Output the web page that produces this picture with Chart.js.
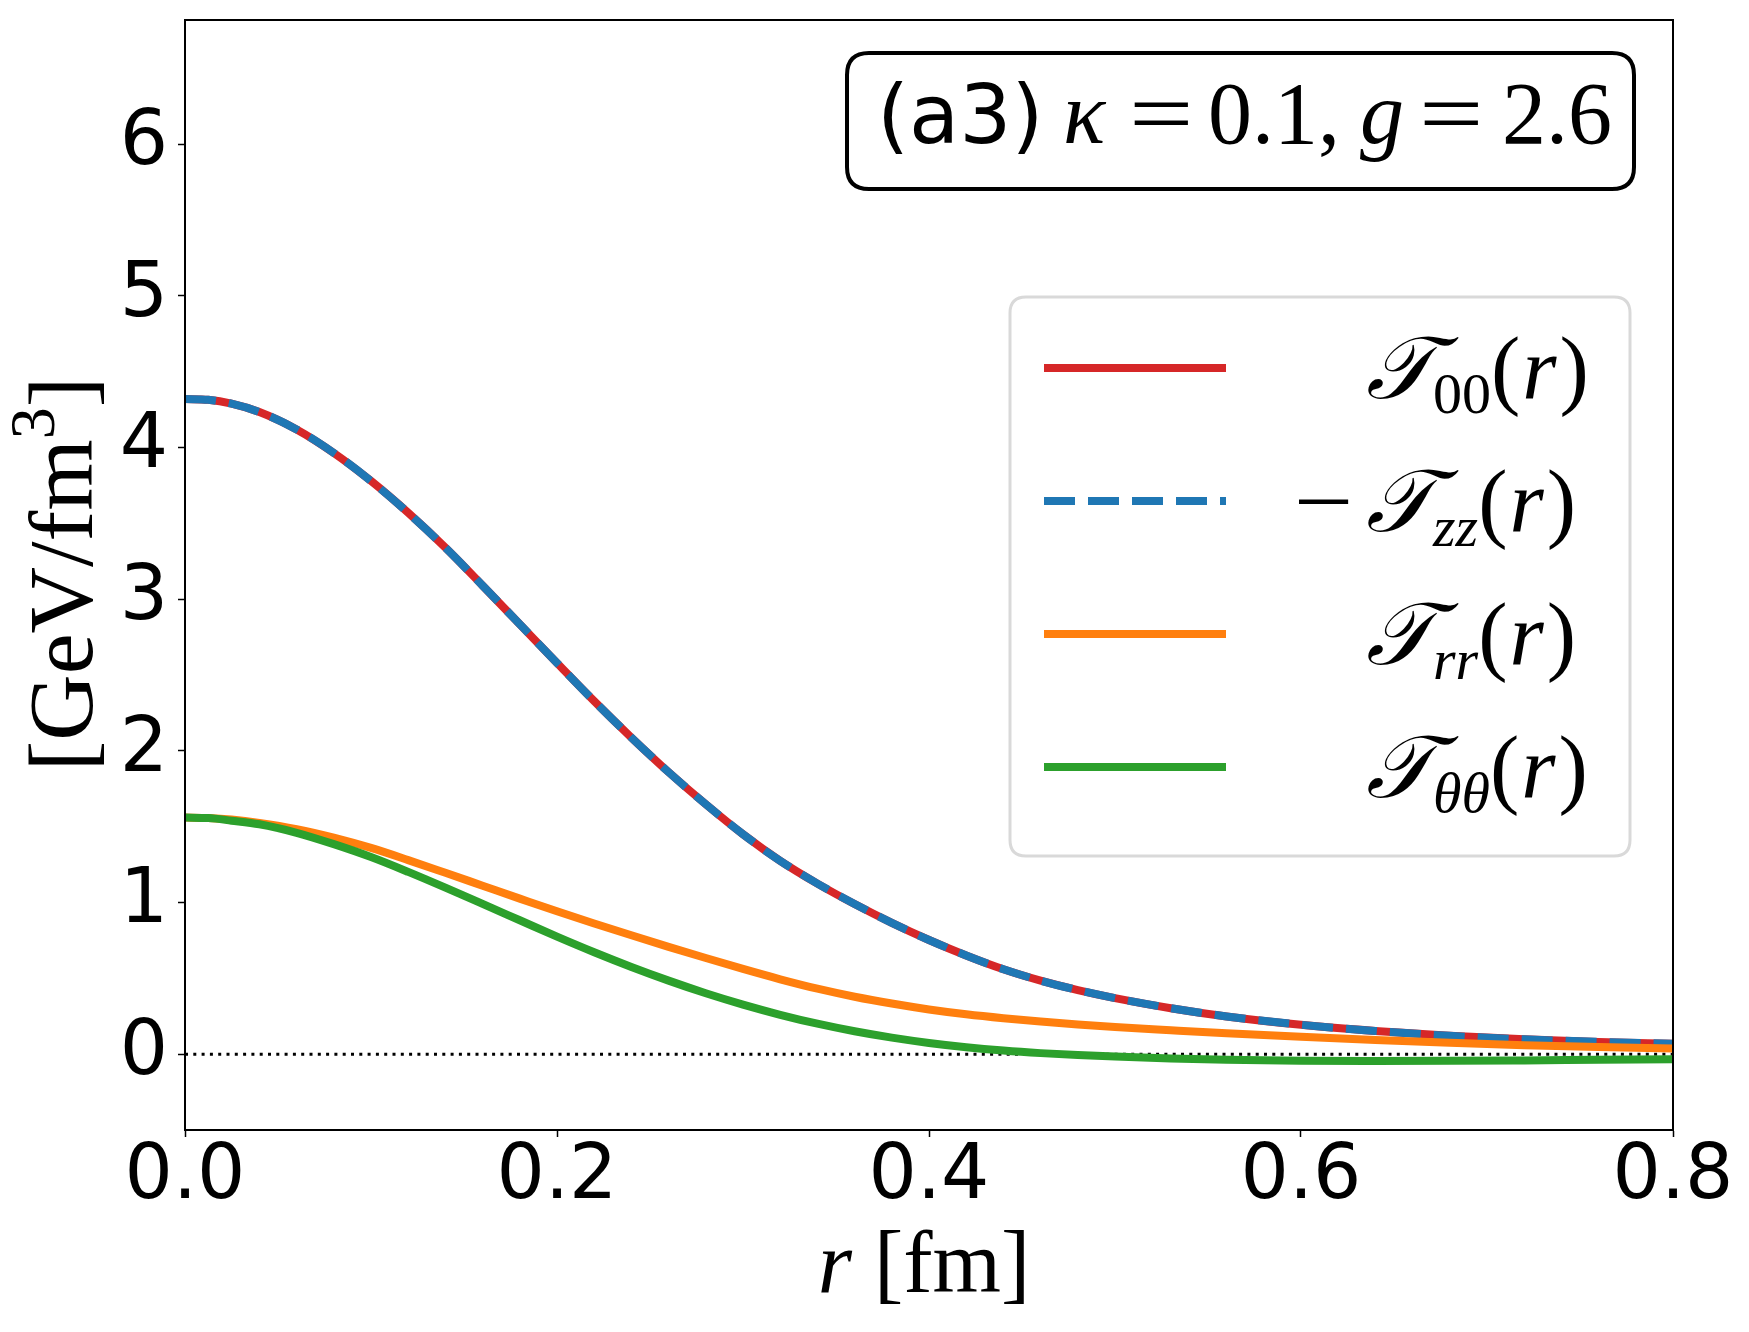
<!DOCTYPE html>
<html>
<head>
<meta charset="utf-8">
<script src="https://cdn.jsdelivr.net/npm/chart.js@4.4.1/dist/chart.umd.min.js"></script>
<style>
  html, body { margin: 0; padding: 0; background: #fff; }
  canvas { display: block; }
</style>
</head>
<body>
<canvas id="stressChart" width="1749" height="1332"></canvas>
<script>
// r in fm
const radius = [0, 0.0125, 0.025, 0.04, 0.06, 0.08, 0.1, 0.12, 0.14, 0.16, 0.18, 0.2, 0.22, 0.24, 0.26, 0.28, 0.3, 0.32, 0.34, 0.36, 0.38, 0.4, 0.42, 0.44, 0.46, 0.48, 0.5, 0.53, 0.56, 0.6, 0.64, 0.68, 0.72, 0.76, 0.8];

// GeV/fm^3
const t00 = [4.32, 4.315, 4.29, 4.235, 4.12, 3.965, 3.78, 3.57, 3.34, 3.09, 2.835, 2.58, 2.328, 2.088, 1.86, 1.648, 1.45, 1.275, 1.125, 0.99, 0.866, 0.753, 0.651, 0.56, 0.485, 0.423, 0.37, 0.303, 0.249, 0.194, 0.153, 0.121, 0.098, 0.081, 0.068];
const tzzNeg = [4.32, 4.315, 4.29, 4.235, 4.12, 3.965, 3.78, 3.57, 3.34, 3.09, 2.835, 2.58, 2.328, 2.088, 1.86, 1.648, 1.45, 1.275, 1.125, 0.99, 0.866, 0.753, 0.651, 0.56, 0.485, 0.423, 0.37, 0.303, 0.249, 0.194, 0.153, 0.121, 0.098, 0.081, 0.068];
const trr = [1.56, 1.557, 1.547, 1.525, 1.484, 1.428, 1.36, 1.28, 1.196, 1.111, 1.026, 0.942, 0.862, 0.784, 0.708, 0.634, 0.562, 0.494, 0.432, 0.379, 0.334, 0.295, 0.263, 0.237, 0.215, 0.196, 0.179, 0.158, 0.138, 0.115, 0.094, 0.075, 0.059, 0.047, 0.037];
const tthth = [1.56, 1.557, 1.54, 1.516, 1.46, 1.385, 1.30, 1.202, 1.098, 0.991, 0.883, 0.775, 0.672, 0.575, 0.485, 0.402, 0.327, 0.26, 0.201, 0.151, 0.109, 0.074, 0.046, 0.024, 0.007, -0.006, -0.016, -0.028, -0.037, -0.043, -0.045, -0.044, -0.041, -0.037, -0.033];

// dotted zero reference
const zeroX = [0, 0.8];
const zeroY = [0, 0];

const xTicks = [0, 0.2, 0.4, 0.6, 0.8];
const xTickLabels = ['0.0', '0.2', '0.4', '0.6', '0.8'];
const yTicks = [0, 1, 2, 3, 4, 5, 6];
const yTickLabels = ['0', '1', '2', '3', '4', '5', '6'];

const RED = '#d62728', BLUE = '#1f77b4', ORANGE = '#ff7f0e', GREEN = '#2ca02c';
const SANS = "'DejaVu Sans', sans-serif";
const SERIF = "'Liberation Serif', 'DejaVu Serif', serif";
const CAL_T = '\u{1D4AF}';

const toPoints = (xs, ys) => xs.map((x, i) => ({ x: x, y: ys[i] }));

// rounded rectangle path
const roundedRect = (ctx, x, y, w, h, r) => {
    ctx.beginPath();
    ctx.moveTo(x + r, y);
    ctx.lineTo(x + w - r, y);
    ctx.quadraticCurveTo(x + w, y, x + w, y + r);
    ctx.lineTo(x + w, y + h - r);
    ctx.quadraticCurveTo(x + w, y + h, x + w - r, y + h);
    ctx.lineTo(x + r, y + h);
    ctx.quadraticCurveTo(x, y + h, x, y + h - r);
    ctx.lineTo(x, y + r);
    ctx.quadraticCurveTo(x, y, x + r, y);
    ctx.closePath();
};

// text made of pieces with their own font / vertical shift
const measureSegs = (ctx, segs) => segs.reduce((w, s) => {
    ctx.font = s.font;
    return w + (s.pre || 0) + ctx.measureText(s.text).width + (s.post || 0);
}, 0);

const drawSegs = (ctx, segs, x, y) => {
    let cx = x;
    segs.forEach(s => {
        cx += s.pre || 0;
        ctx.font = s.font;
        ctx.fillText(s.text, cx, y + (s.dy || 0));
        cx += ctx.measureText(s.text).width + (s.post || 0);
    });
    return cx;
};

// text stretched sideways (TeX '=' and '−' are wider than Times ones)
const drawWide = (ctx, text, font, x, y, sx) => {
    ctx.save();
    ctx.translate(x, y);
    ctx.scale(sx, 1);
    ctx.font = font;
    ctx.fillText(text, 0, 0);
    ctx.restore();
};

const up = (px) => `${px}px ${SERIF}`;
const it = (px) => `italic ${px}px ${SERIF}`;

const labelTail = [
    { text: '(', font: up(88), pre: 0 }, { text: 'r', font: it(88), pre: 2 }, { text: ')', font: up(88), pre: 3 }
];
const legendRows = [
    { color: RED, dash: [], segs: [{ text: CAL_T, font: it(88) }, { text: '00', font: up(58), dy: 15 }, ...labelTail] },
    { color: BLUE, dash: [31, 13], minus: true, segs: [{ text: CAL_T, font: it(88) }, { text: 'zz', font: it(58), dy: 15 }, ...labelTail] },
    { color: ORANGE, dash: [], segs: [{ text: CAL_T, font: it(88) }, { text: 'rr', font: it(58), dy: 15 }, ...labelTail] },
    { color: GREEN, dash: [], segs: [{ text: CAL_T, font: it(88) }, { text: '\u03B8\u03B8', font: it(58), dy: 15 }, ...labelTail] }
];

// top/right spines drawn over the curves, like matplotlib
const framePlugin = {
    id: 'frame',
    afterDatasetsDraw(chart) {
        const { ctx, chartArea: a } = chart;
        ctx.save();
        ctx.strokeStyle = '#000';
        ctx.lineWidth = 2;
        ctx.strokeRect(a.left, a.top, a.right - a.left, a.bottom - a.top);
        ctx.restore();
    }
};

const decorPlugin = {
    id: 'decor',
    afterDraw(chart) {
        const ctx = chart.ctx;
        ctx.save();
        ctx.textBaseline = 'alphabetic';
        ctx.textAlign = 'left';

        // panel tag box
        roundedRect(ctx, 847, 53, 787, 136, 22);
        ctx.fillStyle = '#fff';
        ctx.fill();
        ctx.lineWidth = 4;
        ctx.strokeStyle = '#000';
        ctx.stroke();
        ctx.fillStyle = '#000';
        ctx.font = `82px ${SANS}`;
        ctx.fillText('(a3)', 877, 143);
        // math part placed piece by piece
        [
            { text: '\u03BA', font: it(88), x: 1063 },
            { text: '0.1,', font: up(88), x: 1208 },
            { text: 'g', font: it(88), x: 1360 },
            { text: '2.6', font: up(88), x: 1502 }
        ].forEach(s => {
            ctx.font = s.font;
            ctx.fillText(s.text, s.x, 143);
        });
        drawWide(ctx, '=', up(88), 1129, 143, 1.3);
        drawWide(ctx, '=', up(88), 1419, 143, 1.3);

        // legend frame
        roundedRect(ctx, 1010, 297, 620, 559, 16);
        ctx.fillStyle = 'rgba(255,255,255,0.8)';
        ctx.fill();
        ctx.lineWidth = 3;
        ctx.strokeStyle = '#d9d9d9';
        ctx.stroke();

        const rowY = [368, 501, 634, 767];
        legendRows.forEach((row, i) => {
            const y = rowY[i];
            ctx.save();
            ctx.strokeStyle = row.color;
            ctx.lineWidth = 8;
            ctx.lineCap = 'butt';
            ctx.setLineDash(row.dash);
            ctx.beginPath();
            ctx.moveTo(1044, y);
            ctx.lineTo(1226, y);
            ctx.stroke();
            ctx.restore();
            ctx.fillStyle = '#000';
            if (row.minus) {
                drawWide(ctx, '\u2212', up(88), 1294, y + 30, 1.2);
            }
            drawSegs(ctx, row.segs, 1366, y + 30);
        });

        // x axis title
        const xSegs = [
            { text: 'r', font: it(88), post: 22 },
            { text: '[fm]', font: up(88) }
        ];
        drawSegs(ctx, xSegs, 924 - measureSegs(ctx, xSegs) / 2, 1292);

        // y axis title, rotated
        const ySegs = [
            { text: '[GeV/fm', font: up(92) },
            { text: '3', font: up(64), dy: -38 },
            { text: ']', font: up(92) }
        ];
        ctx.translate(92, 574);
        ctx.rotate(-Math.PI / 2);
        drawSegs(ctx, ySegs, -measureSegs(ctx, ySegs) / 2, 0);
        ctx.restore();
    }
};

const tickFont = { family: 'DejaVu Sans', size: 76 };
const tickGrid = { display: true, drawOnChartArea: false, drawTicks: true, tickLength: 7, tickWidth: 1.5, tickColor: '#000' };

// pin the plot box: no extra room reserved for tick label overhang
const pinX = (s) => { s.height = 202; s.paddingLeft = 0; s.paddingRight = 0; s.paddingTop = 0; s.paddingBottom = 0; };
const pinY = (s) => { s.width = 185; s.paddingLeft = 0; s.paddingRight = 0; s.paddingTop = 0; s.paddingBottom = 0; };

const ctx = document.getElementById('stressChart').getContext('2d');
new Chart(ctx, {
    type: 'line',
    data: {
        datasets: [
            { label: 'T00', data: toPoints(radius, t00), borderColor: RED, borderWidth: 8, order: 4 },
            { label: '-Tzz', data: toPoints(radius, tzzNeg), borderColor: BLUE, borderWidth: 8, borderDash: [31, 13], order: 3 },
            { label: 'Trr', data: toPoints(radius, trr), borderColor: ORANGE, borderWidth: 8, order: 2 },
            { label: 'Tthth', data: toPoints(radius, tthth), borderColor: GREEN, borderWidth: 8, order: 1 },
            { label: 'zero', data: toPoints(zeroX, zeroY), borderColor: '#000', borderWidth: 3, borderDash: [3, 5.3], order: 5 }
        ]
    },
    options: {
        responsive: false,
        animation: false,
        devicePixelRatio: 1,
        layout: { autoPadding: false, padding: { top: 20, right: 76, left: 0, bottom: 0 } },
        elements: {
            point: { radius: 0 },
            line: { cubicInterpolationMode: 'monotone', borderCapStyle: 'butt', borderJoinStyle: 'round', fill: false }
        },
        plugins: {
            legend: { display: false },
            tooltip: { enabled: false }
        },
        scales: {
            x: {
                type: 'linear',
                min: 0,
                max: 0.8,
                afterBuildTicks: (s) => { s.ticks = xTicks.map(v => ({ value: v })); },
                afterFit: pinX,
                ticks: { font: tickFont, color: '#000', padding: -4, maxRotation: 0, autoSkip: false,
                    callback: (v, i) => xTickLabels[i] },
                grid: tickGrid,
                border: { display: true, color: '#000', width: 2 }
            },
            y: {
                type: 'linear',
                min: -0.5,
                max: 6.82,
                afterBuildTicks: (s) => { s.ticks = yTicks.map(v => ({ value: v })); },
                afterFit: pinY,
                ticks: { font: tickFont, color: '#000', padding: 10, autoSkip: false,
                    callback: (v, i) => yTickLabels[i] },
                grid: tickGrid,
                border: { display: true, color: '#000', width: 2 }
            }
        }
    },
    plugins: [framePlugin, decorPlugin]
});
</script>
</body>
</html>
